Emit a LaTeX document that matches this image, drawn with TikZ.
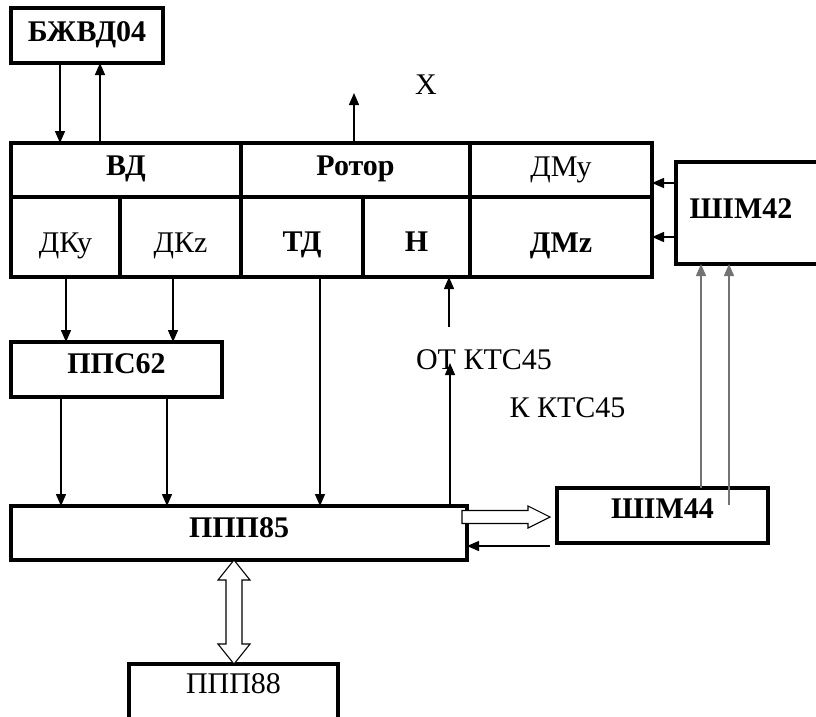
\documentclass[tikz,border=0pt]{standalone}
\usepackage{fontspec}
\setmainfont{Liberation Serif}
\usetikzlibrary{arrows.meta,calc}

\begin{document}
\begin{tikzpicture}[x=1pt, y=-1pt, font=\fontsize{30}{34}\selectfont,
  blok/.style={draw, line width=3.2pt, inner sep=0pt, outer sep=0pt, align=center},
  zhirn/.style={font=\fontsize{30}{34}\selectfont\bfseries},
  vverh/.style={text height=20pt, text depth=#1},
  vniz/.style={text height=#1, text depth=0pt},
  strelka/.style={-{Triangle[length=12pt,width=10pt]}, line width=1.4pt},
  seraja/.style={strelka, draw=black!55},
  polaja/.style={draw, line width=1.1pt, fill=white, line join=miter}]
  \useasboundingbox (0,0) rectangle (816,716);
  \clip (0,0) rectangle (816,716);
  % blok BZhVD
  \node[blok, zhirn, vverh=9pt, minimum width=152pt, minimum height=55pt] (bzhvd) at (87,35.5) {БЖВД04};
  % verhnij ryad
  \node[blok, zhirn, vverh=9pt, minimum width=230pt, minimum height=54pt] (vd) at (126,170) {ВД};
  \node[blok, zhirn, vverh=9pt, minimum width=229pt, minimum height=54pt] (rotor) at (355.5,170) {Ротор};
  \node[blok, vverh=8pt, minimum width=182pt, minimum height=54pt] (dmy) at (561,170) {ДМу};
  % nizhnij ryad
  \node[blok, vniz=30pt, minimum width=109pt, minimum height=80pt] (dky) at (65.5,237) {ДКу};
  \node[blok, vniz=30pt, minimum width=121pt, minimum height=80pt] (dkz) at (180.5,237) {ДКz};
  \node[blok, zhirn, vniz=29pt, minimum width=122pt, minimum height=80pt] (td) at (302,237) {ТД};
  \node[blok, zhirn, vniz=29pt, minimum width=107pt, minimum height=80pt] (h) at (416.5,237) {Н};
  \node[blok, zhirn, vniz=30pt, minimum width=182pt, minimum height=80pt] (dmz) at (561,237) {ДМz};
  % ShIM
  \node[blok, zhirn, vverh=10pt, minimum width=154pt, minimum height=102pt] (shim42) at (753,213) {ШІМ42\hspace*{24pt}};
  \node[blok, zhirn, vverh=15pt, minimum width=211pt, minimum height=55pt] (shim44) at (662.5,515.5) {ШІМ44};
  % PPS, PPP
  \node[blok, zhirn, vverh=13pt, minimum width=211pt, minimum height=55pt] (pps62) at (116.5,369.5) {ППС62};
  \node[blok, zhirn, vverh=12pt, minimum width=456pt, minimum height=54pt] (ppp85) at (239,533) {ППП85};
  \node[blok, vverh=38pt, minimum width=209pt, minimum height=76pt] (ppp88) at (233.5,702) {ППП88};
  % podpisi
  \node (iksm) at (426,85) {X};
  \node (otm) at (484,360) {ОТ КТС45};
  \node (km) at (567.5,408) {К КТС45};
  \coordinate (iks) at (354,93);
  \coordinate (otkts) at (449,327);
  \coordinate (kkts) at (450,363);
  \coordinate (vozvr) at (550,546);

  \draw[strelka] ([xshift=49pt]bzhvd.south west) -- ([xshift=49pt]bzhvd.south west |- vd.north);
  \draw[strelka] ([xshift=89pt]vd.north west) -- ([xshift=89pt]vd.north west |- bzhvd.south);
  \draw[strelka] (rotor.north -| iks) -- (iks);
  \draw[strelka] ([yshift=-21pt]shim42.north west) -- ([yshift=-21pt]shim42.north west -| dmy.east);
  \draw[strelka] ([yshift=-75pt]shim42.north west) -- ([yshift=-75pt]shim42.north west -| dmz.east);
  \draw[strelka] ([xshift=55pt]dky.south west) -- ([xshift=55pt]dky.south west |- pps62.north);
  \draw[strelka] ([xshift=53pt]dkz.south west) -- ([xshift=53pt]dkz.south west |- pps62.north);
  \draw[strelka] ([xshift=50pt]pps62.south west) -- ([xshift=50pt]pps62.south west |- ppp85.north);
  \draw[strelka] ([xshift=156pt]pps62.south west) -- ([xshift=156pt]pps62.south west |- ppp85.north);
  \draw[strelka] ([xshift=79pt]td.south west) -- ([xshift=79pt]td.south west |- ppp85.north);
  \draw[strelka] (otkts) -- (otkts |- h.south);
  \draw[strelka] (ppp85.north -| kkts) -- (kkts);
  \draw[strelka] (vozvr) -- (vozvr -| ppp85.east);
  \draw[seraja] ([xshift=144pt]shim44.north west) -- ([xshift=144pt]shim44.north west |- shim42.south);
  \draw[seraja] ([xshift=172pt,yshift=-17pt]shim44.north west) -- ([xshift=172pt]shim44.north west |- shim42.south);
  % shiny
  \draw[polaja] ([xshift=-5pt,yshift=-4.5pt]ppp85.north east) -- ++(66,0) -- ++(0,-4.5) -- ++(22,11)
    -- ++(-22,11) -- ++(0,-4.5) -- ++(-66,0) -- cycle;
  \draw[polaja] ([xshift=-5pt]ppp85.south) -- ++(16,20) -- ++(-8,0) -- ++(0,64) -- ++(8,0) -- ++(-16,20)
    -- ++(-16,-20) -- ++(8,0) -- ++(0,-64) -- ++(-8,0) -- cycle;
\end{tikzpicture}
\end{document}
